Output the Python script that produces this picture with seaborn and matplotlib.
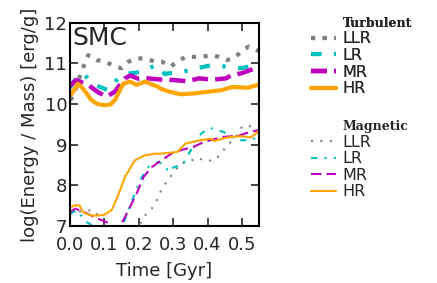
import matplotlib
matplotlib.use("Agg")
import matplotlib.pyplot as plt
import seaborn as sns
from matplotlib.lines import Line2D

# --- data ---
# Turbulent energy
turb_llr_t = [0.0, 0.009, 0.033, 0.053, 0.077, 0.1, 0.125, 0.15, 0.17, 0.193, 0.218, 0.248, 0.268, 0.292,
              0.312, 0.336, 0.36, 0.385, 0.41, 0.433, 0.458, 0.482, 0.502, 0.52, 0.55]
turb_llr_y = [10.1, 10.17, 10.79, 11.2, 11.08, 11.05, 10.95, 10.88, 11.04, 11.12, 11.12, 11.04, 11.04, 10.92,
              11.04, 11.16, 11.16, 11.16, 11.2, 11.16, 11.08, 11.16, 11.33, 11.41, 11.3]
turb_lr_t = [0.0, 0.018, 0.038, 0.072, 0.111, 0.14, 0.17, 0.209, 0.25, 0.277, 0.283, 0.327, 0.37, 0.414,
             0.453, 0.497, 0.541, 0.55]
turb_lr_y = [10.4, 10.63, 10.75, 10.47, 10.34, 10.63, 10.75, 10.79, 10.96, 10.73, 10.75, 10.79, 10.88, 10.96,
             10.92, 10.88, 10.96, 10.98]
turb_mr_t = [0.0, 0.018, 0.053, 0.08, 0.106, 0.13, 0.16, 0.175, 0.2, 0.228, 0.265, 0.302, 0.34, 0.375,
             0.415, 0.453, 0.468, 0.5, 0.526, 0.546, 0.55]
turb_mr_y = [10.45, 10.59, 10.47, 10.3, 10.18, 10.3, 10.63, 10.7, 10.62, 10.63, 10.6, 10.59, 10.56, 10.63,
             10.6, 10.63, 10.7, 10.76, 10.84, 10.92, 10.93]
turb_hr_t = [0.0, 0.009, 0.023, 0.038, 0.062, 0.08, 0.101, 0.118, 0.131, 0.155, 0.175, 0.194, 0.218, 0.257,
             0.263, 0.29, 0.322, 0.36, 0.39, 0.44, 0.473, 0.517, 0.546, 0.55]
turb_hr_y = [10.2, 10.3, 10.5, 10.38, 10.1, 10.0, 9.97, 9.99, 10.1, 10.5, 10.55, 10.47, 10.55, 10.42,
             10.38, 10.3, 10.24, 10.26, 10.29, 10.34, 10.42, 10.4, 10.47, 10.48]

# Magnetic energy
mag_llr_t = [0.0, 0.02, 0.045, 0.067, 0.097, 0.12, 0.16, 0.19, 0.213, 0.238, 0.252, 0.263, 0.277, 0.292,
             0.322, 0.346, 0.37, 0.395, 0.419, 0.44, 0.453, 0.482, 0.502, 0.531, 0.55]
mag_llr_y = [7.3, 7.35, 7.38, 7.39, 7.14, 6.9, 6.6, 6.8, 7.22, 7.43, 7.63, 7.84, 8.04, 8.21,
             8.54, 8.58, 8.68, 8.6, 8.62, 8.78, 8.95, 9.19, 9.46, 9.45, 9.35]
mag_lr_t = [0.0, 0.02, 0.048, 0.08, 0.12, 0.155, 0.17, 0.189, 0.204, 0.228, 0.257, 0.275, 0.287, 0.302,
            0.327, 0.351, 0.37, 0.404, 0.448, 0.487, 0.531, 0.55]
mag_lr_y = [7.3, 7.39, 7.1, 6.95, 6.8, 7.05, 7.4, 7.8, 8.13, 8.45, 8.58, 8.5, 8.33, 8.45,
            8.5, 8.86, 9.19, 9.42, 9.31, 9.11, 9.11, 9.3]
mag_mr_t = [0.0, 0.016, 0.04, 0.082, 0.106, 0.125, 0.145, 0.155, 0.17, 0.194, 0.214, 0.238, 0.263, 0.302,
            0.36, 0.39, 0.443, 0.49, 0.521, 0.55]
mag_mr_y = [7.35, 7.43, 7.35, 7.18, 7.1, 6.95, 6.95, 7.14, 7.39, 7.8, 8.21, 8.45, 8.6, 8.82,
            8.95, 9.07, 9.19, 9.22, 9.31, 9.36]
mag_hr_t = [0.0, 0.014, 0.028, 0.038, 0.062, 0.08, 0.1, 0.121, 0.14, 0.16, 0.189, 0.218, 0.248, 0.263,
            0.312, 0.336, 0.38, 0.41, 0.419, 0.458, 0.497, 0.526, 0.546, 0.55]
mag_hr_y = [7.45, 7.51, 7.51, 7.34, 7.26, 7.26, 7.28, 7.39, 7.75, 8.21, 8.62, 8.74, 8.78, 8.78,
            8.82, 9.03, 9.11, 9.15, 9.09, 9.18, 9.21, 9.18, 9.31, 9.35]

labels = ["LLR", "LR", "MR", "HR"]
colors = ["gray", "c", "m", "orange"]
turb_styles = [(0, (1, 1.8)), (0, (2.5, 3.0, 0.8, 3.0)), (0, (3.6, 1.6)), "-"]
turb_widths = [3, 3, 3.2, 3]
mag_styles = [(0, (1, 3.5)), (0, (3.0, 3.5, 1.0, 3.5)), (0, (5.0, 2.5)), "-"]
mag_widths = [1.5, 1.5, 1.5, 1.5]

sns.set_style("ticks")
plt.rcParams["font.family"] = ["DejaVu Sans"]
plt.rcParams["xtick.direction"] = "in"
plt.rcParams["ytick.direction"] = "in"

fig = plt.figure(figsize=(4.37, 2.83), dpi=100)
ax = fig.add_axes([0.160, 0.201, 0.433, 0.719])

turb = [(turb_llr_t, turb_llr_y), (turb_lr_t, turb_lr_y), (turb_mr_t, turb_mr_y), (turb_hr_t, turb_hr_y)]
mag = [(mag_llr_t, mag_llr_y), (mag_lr_t, mag_lr_y), (mag_mr_t, mag_mr_y), (mag_hr_t, mag_hr_y)]

turb_handles = []
mag_handles = []
for (t, y), lab, c, ls, lw in zip(turb, labels, colors, turb_styles, turb_widths):
    sns.lineplot(x=t, y=y, ax=ax, color=c, linestyle=ls, linewidth=lw, sort=False, estimator=None)
    turb_handles.append(Line2D([], [], color=c, linestyle=ls, linewidth=lw, label=lab))
for (t, y), lab, c, ls, lw in zip(mag, labels, colors, mag_styles, mag_widths):
    sns.lineplot(x=t, y=y, ax=ax, color=c, linestyle=ls, linewidth=lw, sort=False, estimator=None)
    mag_handles.append(Line2D([], [], color=c, linestyle=ls, linewidth=lw, label=lab))

ax.set_xlim(0, 0.55)
ax.set_ylim(7, 12)
ax.set_xticks([0.0, 0.1, 0.2, 0.3, 0.4, 0.5])
ax.set_yticks([7, 8, 9, 10, 11, 12])
ax.tick_params(which="both", top=True, right=True, length=6, width=1.2, labelsize=13, pad=2)
ax.tick_params(axis="x", pad=7)
for sp in ax.spines.values():
    sp.set_linewidth(1.5)
    sp.set_color("black")
ax.set_xlabel("Time [Gyr]", fontsize=13, labelpad=6)
ax.set_ylabel("log(Energy / Mass) [erg/g]", fontsize=13)
ax.text(0.015, 0.985, "SMC", transform=ax.transAxes, fontsize=18, va="top", ha="left")


def add_legend(handles, title, y0):
    header = Line2D([], [], color="none", label=title)
    leg = fig.legend(handles=[header] + handles, loc="upper left", bbox_to_anchor=(0.711, y0),
                     frameon=False, fontsize=11.5, handlelength=1.6, handletextpad=0.4,
                     labelspacing=0.1, borderaxespad=0.0, borderpad=0.0)
    txt = leg.get_texts()[0]
    txt.set_fontfamily("DejaVu Serif")
    txt.set_fontweight("bold")
    txt.set_fontsize(9)
    return leg


leg1 = add_legend(turb_handles, "Turbulent", 0.945)
add_legend(mag_handles, "Magnetic", 0.58)
fig.add_artist(leg1)

fig.savefig("out.png", dpi=100)
